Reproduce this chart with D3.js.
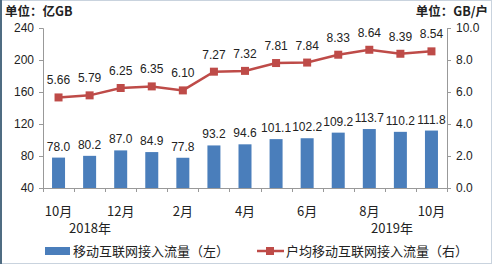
<!DOCTYPE html>
<meta charset='utf-8'>
<title>移动互联网接入流量</title>
<style>
html, body { margin: 0; padding: 0; background: #fff; }
text { fill: #222; }
</style>
<script src='https://d3js.org/d3.v7.min.js'></script>
<body>
<svg id='chart' width='493' height='264'></svg>
<script>
// data
var months = ['10月', '11月', '12月', '1月', '2月', '3月', '4月', '5月', '6月', '7月', '8月', '9月', '10月'];
var traffic = [78.0, 80.2, 87.0, 84.9, 77.8, 93.2, 94.6, 101.1, 102.2, 109.2, 113.7, 110.2, 111.8];
var perUser = [5.66, 5.79, 6.25, 6.35, 6.10, 7.27, 7.32, 7.81, 7.84, 8.33, 8.64, 8.39, 8.54];
var leftTicks = [40, 80, 120, 160, 200, 240];
var rightTicks = [0, 2, 4, 6, 8, 10];

var barColor = '#4a7ebb';
var lineColor = '#be4b48';
var numFont = "'Liberation Sans', Arial, sans-serif";
var cjkFont = "'Noto Sans CJK SC', sans-serif";

var svg = d3.select('#chart');

// frame
svg.append('rect').attr('x', 0.5).attr('y', 0.5).attr('width', 491).attr('height', 263)
  .attr('fill', 'none').attr('stroke', '#c9d3de');
svg.append('line').attr('x1', 1).attr('x2', 1).attr('y1', 0).attr('y2', 264)
  .attr('stroke', '#4f6c82').attr('stroke-width', 2);

// plot area (window.top is reserved, so plotTop etc.)
var plotLeft = 43, plotRight = 447, plotTop = 28, plotBottom = 188;

var x = d3.scaleBand().domain(d3.range(months.length)).range([plotLeft, plotRight]);
var yL = d3.scaleLinear().domain([40, 240]).range([plotBottom, plotTop]);
var yR = d3.scaleLinear().domain([0, 10]).range([plotBottom, plotTop]);

// left axis
var gl = svg.append('g').attr('transform', 'translate(' + plotLeft + ',0)')
  .call(d3.axisLeft(yL).tickValues(leftTicks).tickSize(4).tickPadding(5).tickFormat(d3.format('d')));
// right axis
var gr = svg.append('g').attr('transform', 'translate(' + plotRight + ',0)')
  .call(d3.axisRight(yR).tickValues(rightTicks).tickSize(4).tickPadding(5).tickFormat(d3.format('.1f')));
[gl, gr].forEach(function (g) {
  g.select('.domain').attr('stroke', '#999');
  g.selectAll('.tick line').attr('stroke', '#999');
  g.selectAll('.tick text').style('font-family', numFont).style('font-size', '12px').attr('fill', '#222');
});

// bottom axis line with ticks between categories
svg.append('line').attr('x1', plotLeft).attr('x2', plotRight)
  .attr('y1', plotBottom + 0.5).attr('y2', plotBottom + 0.5).attr('stroke', '#999');
svg.selectAll('.xtick').data(d3.range(months.length + 1)).enter().append('line')
  .attr('class', 'xtick')
  .attr('x1', function (i) { return Math.round(plotLeft + i * x.step()) + 0.5; })
  .attr('x2', function (i) { return Math.round(plotLeft + i * x.step()) + 0.5; })
  .attr('y1', plotBottom).attr('y2', plotBottom + 4).attr('stroke', '#999');

svg.selectAll('.xlab').data(months).enter().append('text')
  .filter(function (d, i) { return i % 2 === 0; })
  .attr('x', function (d, i) { return x(i * 2) + x.bandwidth() / 2; })
  .attr('y', 216)
  .attr('text-anchor', 'middle')
  .style('font-family', cjkFont).style('font-size', '13px')
  .text(function (d) { return d; });

svg.append('text').attr('x', 90).attr('y', 233).attr('text-anchor', 'middle')
  .style('font-family', cjkFont).style('font-size', '13px').text('2018年');
svg.append('text').attr('x', 392).attr('y', 233).attr('text-anchor', 'middle')
  .style('font-family', cjkFont).style('font-size', '13px').text('2019年');

// bars
var bw = 13;
svg.selectAll('.bar').data(traffic).enter().append('rect')
  .attr('class', 'bar')
  .attr('x', function (d, i) { return x(i) + x.bandwidth() / 2 - bw / 2; })
  .attr('y', function (d) { return yL(d); })
  .attr('width', bw)
  .attr('height', function (d) { return plotBottom - yL(d); })
  .attr('fill', barColor);

svg.selectAll('.blab').data(traffic).enter().append('text')
  .attr('x', function (d, i) { return x(i) + x.bandwidth() / 2; })
  .attr('y', function (d) { return yL(d) - 7; })
  .attr('text-anchor', 'middle')
  .style('font-family', numFont).style('font-size', '12px')
  .text(function (d) { return d.toFixed(1); });

// line
var line = d3.line()
  .x(function (d, i) { return x(i) + x.bandwidth() / 2; })
  .y(function (d) { return yR(d); });
svg.append('path').datum(perUser).attr('d', line)
  .attr('fill', 'none').attr('stroke', lineColor).attr('stroke-width', 2.5);
svg.selectAll('.pt').data(perUser).enter().append('rect')
  .attr('x', function (d, i) { return x(i) + x.bandwidth() / 2 - 4; })
  .attr('y', function (d) { return yR(d) - 4; })
  .attr('width', 8).attr('height', 8).attr('fill', lineColor);
svg.selectAll('.llab').data(perUser).enter().append('text')
  .attr('x', function (d, i) { return x(i) + x.bandwidth() / 2; })
  .attr('y', function (d) { return yR(d) - 13; })
  .attr('text-anchor', 'middle')
  .style('font-family', numFont).style('font-size', '12px')
  .text(function (d) { return d.toFixed(2); });

// unit titles
svg.append('text').attr('x', 5).attr('y', 16)
  .style('font-family', cjkFont).style('font-size', '12.5px').style('font-weight', 'bold')
  .text('单位：亿GB');
svg.append('text').attr('x', 488).attr('y', 16).attr('text-anchor', 'end')
  .style('font-family', cjkFont).style('font-size', '12.5px').style('font-weight', 'bold')
  .text('单位：GB/户');

// legend
svg.append('rect').attr('x', 45).attr('y', 247).attr('width', 25).attr('height', 8).attr('fill', barColor);
svg.append('text').attr('x', 73).attr('y', 256)
  .style('font-family', cjkFont).style('font-size', '13px').text('移动互联网接入流量（左）');
svg.append('line').attr('x1', 257).attr('x2', 284).attr('y1', 251).attr('y2', 251)
  .attr('stroke', lineColor).attr('stroke-width', 2.5);
svg.append('rect').attr('x', 266).attr('y', 247).attr('width', 8).attr('height', 8).attr('fill', lineColor);
svg.append('text').attr('x', 286).attr('y', 256)
  .style('font-family', cjkFont).style('font-size', '13px').text('户均移动互联网接入流量（右）');
</script>
</body>
